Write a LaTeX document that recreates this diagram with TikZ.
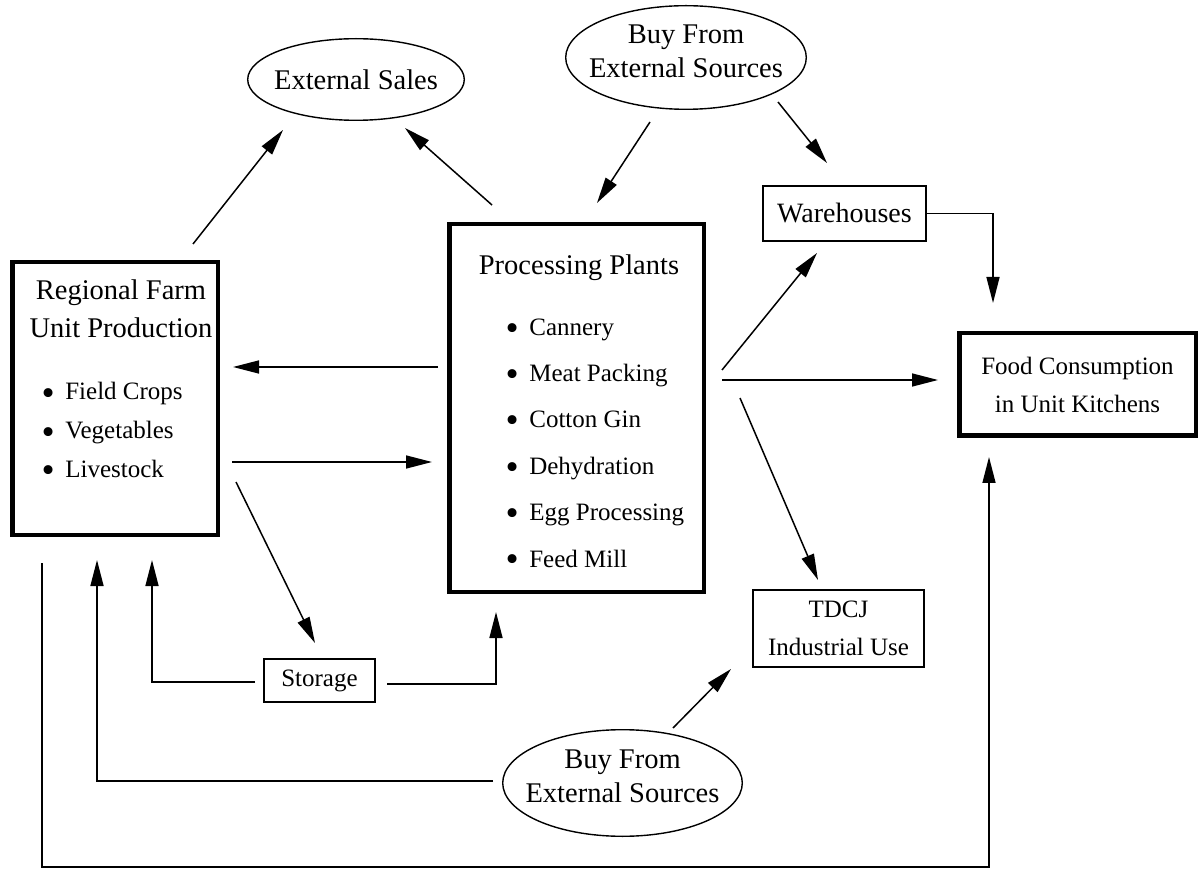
\documentclass[tikz,border=0pt]{standalone}
\usepackage{fontspec}
\setmainfont{Liberation Serif}
\usepackage{tikz}
\usetikzlibrary{shapes.geometric,arrows.meta}
\tikzset{
      bigbox/.style   = {draw, line width=4.5pt, inner sep=0pt},
      smallbox/.style = {draw, line width=1.6pt, inner sep=0pt, align=center},
      oval/.style     = {draw, ellipse, line width=1.4pt, inner sep=-30pt, align=center,
                         font=\fontsize{28.5}{34}\selectfont},
      flow/.style     = {black, line width=1.5pt, -{Triangle[length=26pt,width=13pt]}},
      head/.style     = {align=center, inner sep=0pt, font=\fontsize{28.5}{38}\selectfont},
      items/.style    = {align=left, inner sep=0pt},
      small/.style    = {font=\fontsize{25}{38}\selectfont},
    }
\newcommand{\bul}{\raisebox{-0.2em}{\scalebox{1.5}{\textbullet}}\hspace{0.42em}}
\newcommand{\lift}{\rule[-13pt]{0pt}{0pt}}

\begin{document}
\begin{tikzpicture}[x=1pt, y=-1pt]
    \useasboundingbox (0,0) rectangle (1200,874);

    \node[bigbox, minimum width=205.5, minimum height=272.5] (farm) at (115,398.5) {};
    \node[head, anchor=base] (farmtitle) at (121,338) {Regional Farm\\Unit Production};
    \node[items, anchor=base west, font=\fontsize{25}{39}\selectfont] (farmlist) at (41.5,478)
        {\bul Field Crops\\\bul Vegetables\\\bul Livestock};

    \node[bigbox, minimum width=254.5, minimum height=367.5] (proc) at (576.5,408) {};
    \node[head, anchor=base] (proctitle) at (579,275) {Processing Plants};
    \node[items, anchor=base west, font=\fontsize{25}{46.4}\selectfont] (proclist) at (505.5,567)
        {\bul Cannery\\\bul Meat Packing\\\bul Cotton Gin\\\bul Dehydration\\\bul Egg Processing\\\bul Feed Mill};

    \node[smallbox, minimum width=163.4, minimum height=55.4, font=\fontsize{28}{34}\selectfont]
        (ware) at (844.5,213.5) {Warehouses};
    \node[bigbox, small, align=center, minimum width=236.5, minimum height=102.5]
        (food) at (1077.5,384.5) {Food Consumption\\in Unit Kitchens};
    \node[smallbox, small, minimum width=171.4, minimum height=77.4]
        (tdcj) at (838.5,628.5) {TDCJ\\Industrial Use};
    \node[smallbox, small, minimum width=111.4, minimum height=43.4]
        (store) at (319.5,680.5) {Storage};

    \node[oval, minimum width=216.6, minimum height=81.6] (sales) at (356,79.5) {External Sales};
    \node[oval, minimum width=240.6, minimum height=103.6] (buytop) at (686,57.5) {Buy From\\External Sources\lift};
    \node[oval, minimum width=239.6, minimum height=106.6] (buybot) at (622.5,783) {Buy From\\External Sources\lift};

    \path ([shift={(78,-16)}]farm.north) edge[flow] ([shift={(-73,9)}]sales.south);
    \path ([shift={(-84.5,-17)}]proc.north) edge[flow] ([shift={(49,7)}]sales.south);
    \path ([shift={(-36,12)}]buytop.south) edge[flow] ([shift={(20.5,-19)}]proc.north);
    \path ([shift={(92,-8)}]buytop.south) edge[flow] ([shift={(-17.5,-22)}]ware.north);
    \draw[flow] (ware.east) -| ([shift={(-84.5,-28)}]food.north);
    \path ([shift={(16,-38)}]proc.east) edge[flow] ([shift={(-27.5,11)}]ware.south);
    \path ([shift={(16,-28)}]proc.east) edge[flow] ([shift={(-19,-4.5)}]food.west);
    \path ([shift={(34,-10)}]proc.east) edge[flow] ([shift={(-20.5,-9)}]tdcj.north);
    \path ([shift={(-9,-41)}]proc.west) edge[flow] ([shift={(13,-31.5)}]farm.east);
    \path ([shift={(12,63.5)}]farm.east) edge[flow] ([shift={(-15,54)}]proc.west);
    \path ([shift={(16,83.5)}]farm.east) edge[flow] ([shift={(-4.5,-15)}]store.north);
    \draw[flow] ([shift={(-8,1.5)}]store.west) -| ([shift={(37,23)}]farm.south);
    \draw[flow] ([shift={(11,3.5)}]store.east) -| ([shift={(-80.5,18)}]proc.south);
    \path ([shift={(50.5,-1)}]buybot.north) edge[flow] ([shift={(-21,1)}]tdcj.south west);
    \draw[flow] ([shift={(-9,-2)}]buybot.west) -| ([shift={(-18,23)}]farm.south);
    \draw[flow] ([shift={(-73,26)}]farm.south) -- ++(0,304) -| ([shift={(-88.5,19)}]food.south);
\end{tikzpicture}
\end{document}
